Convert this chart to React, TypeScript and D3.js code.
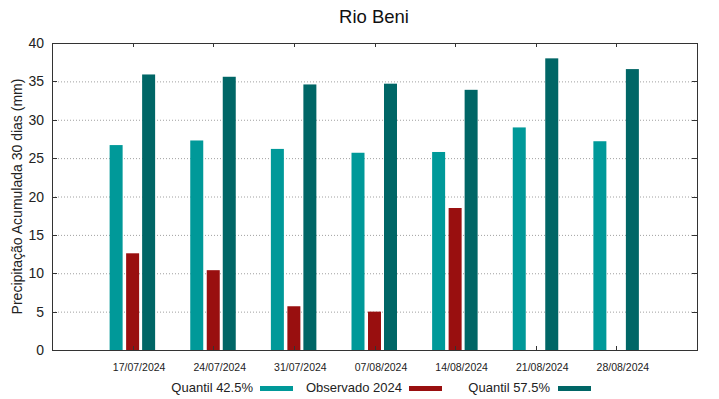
import * as React from 'react';
import * as d3 from 'd3';

const dates = ['17/07/2024', '24/07/2024', '31/07/2024', '07/08/2024', '14/08/2024', '21/08/2024', '28/08/2024'];
const q425 = [26.7, 27.3, 26.2, 25.7, 25.8, 29.0, 27.2];
const observed: (number | null)[] = [12.6, 10.4, 5.7, 5.0, 18.5, null, null];
const q575 = [35.9, 35.6, 34.6, 34.7, 33.9, 38.0, 36.6];
const yTicks = [0, 5, 10, 15, 20, 25, 30, 35, 40];

const series = [
  { name: 'Quantil 42.5%', values: q425 as (number | null)[], color: '#009999', offset: -16.5 },
  { name: 'Observado 2024', values: observed, color: '#990f0f', offset: 0 },
  { name: 'Quantil 57.5%', values: q575 as (number | null)[], color: '#006666', offset: 16 },
];

export default function App() {
  const ref = React.useRef<SVGSVGElement | null>(null);

  React.useEffect(() => {
    if (!ref.current) return;
    const svg = d3.select(ref.current);
    svg.selectAll('*').remove();
    const width = 719;
    const height = 399;
    const margin = { top: 43, right: 22, bottom: 49, left: 52 };
    const font = '"Liberation Sans", Arial, sans-serif';

    const x = d3.scaleLinear().domain([0, dates.length + 1]).range([margin.left, width - margin.right]);
    const y = d3.scaleLinear().domain([0, 40]).range([height - margin.bottom, margin.top]);
    const barW = 13;

    svg.append('rect').attr('width', width).attr('height', height).attr('fill', '#fff');

    // grid
    svg.append('g').selectAll('line')
      .data(yTicks.filter(t => t > 0 && t < 40))
      .join('line')
      .attr('x1', margin.left).attr('x2', width - margin.right)
      .attr('y1', d => y(d) + 0.5).attr('y2', d => y(d) + 0.5)
      .attr('stroke', '#a0a0a0').attr('stroke-width', 1).attr('stroke-dasharray', '1,2');

    // bars
    series.forEach(s => {
      svg.append('g').selectAll('rect')
        .data(s.values.map((v, i) => ({ v, i })).filter(d => d.v !== null))
        .join('rect')
        .attr('x', d => x(d.i + 1) + s.offset - barW / 2)
        .attr('y', d => y(d.v as number))
        .attr('width', barW)
        .attr('height', d => y(0) - y(d.v as number))
        .attr('fill', s.color);
    });

    // border
    svg.append('rect')
      .attr('x', margin.left + 0.5).attr('y', margin.top + 0.5)
      .attr('width', width - margin.left - margin.right).attr('height', height - margin.top - margin.bottom)
      .attr('fill', 'none').attr('stroke', '#333').attr('stroke-width', 1);

    // y ticks
    const yg = svg.append('g');
    yTicks.forEach(t => {
      const yy = Math.round(y(t)) + 0.5;
      yg.append('line').attr('x1', margin.left).attr('x2', margin.left + 5).attr('y1', yy).attr('y2', yy).attr('stroke', '#333');
      yg.append('line').attr('x1', width - margin.right - 5).attr('x2', width - margin.right).attr('y1', yy).attr('y2', yy).attr('stroke', '#333');
      yg.append('text').attr('x', margin.left - 8).attr('y', y(t) + 5)
        .attr('text-anchor', 'end').attr('font-family', font).attr('font-size', 14).attr('fill', '#222').text(t);
    });

    // x ticks
    const xg = svg.append('g');
    dates.forEach((d, i) => {
      const xx = Math.round(x(i + 1)) + 0.5;
      xg.append('line').attr('x1', xx).attr('x2', xx).attr('y1', margin.top).attr('y2', margin.top + 4).attr('stroke', '#333');
      xg.append('line').attr('x1', xx).attr('x2', xx).attr('y1', y(0) - 4).attr('y2', y(0)).attr('stroke', '#333');
      xg.append('text').attr('x', x(i + 1) + 6.5).attr('y', 371)
        .attr('text-anchor', 'middle').attr('font-family', font).attr('font-size', 10.5).attr('fill', '#222').text(d);
    });

    // title
    svg.append('text').attr('x', 374).attr('y', 23).attr('text-anchor', 'middle')
      .attr('font-family', font).attr('font-size', 18.5).attr('fill', '#111').text('Rio Beni');

    // y label
    svg.append('text')
      .attr('transform', `translate(22,${(margin.top + y(0)) / 2}) rotate(-90)`)
      .attr('text-anchor', 'middle').attr('font-family', font).attr('font-size', 14).attr('fill', '#222')
      .text('Precipitação Acumulada 30 dias (mm)');

    // legend
    const legendPos = [{ textEnd: 253, sw: 260 }, { textEnd: 402, sw: 409 }, { textEnd: 550, sw: 558 }];
    series.forEach((s, i) => {
      const p = legendPos[i];
      svg.append('text').attr('x', p.textEnd).attr('y', 392).attr('text-anchor', 'end')
        .attr('font-family', font).attr('font-size', 13).attr('fill', '#222').text(s.name);
      svg.append('rect').attr('x', p.sw).attr('y', 386).attr('width', 33).attr('height', 5).attr('fill', s.color);
    });
  }, []);

  return (
    <div style={{ position: 'absolute', left: 0, top: 0 }}>
      <svg ref={ref} width={719} height={399} style={{ display: 'block' }} />
    </div>
  );
}
